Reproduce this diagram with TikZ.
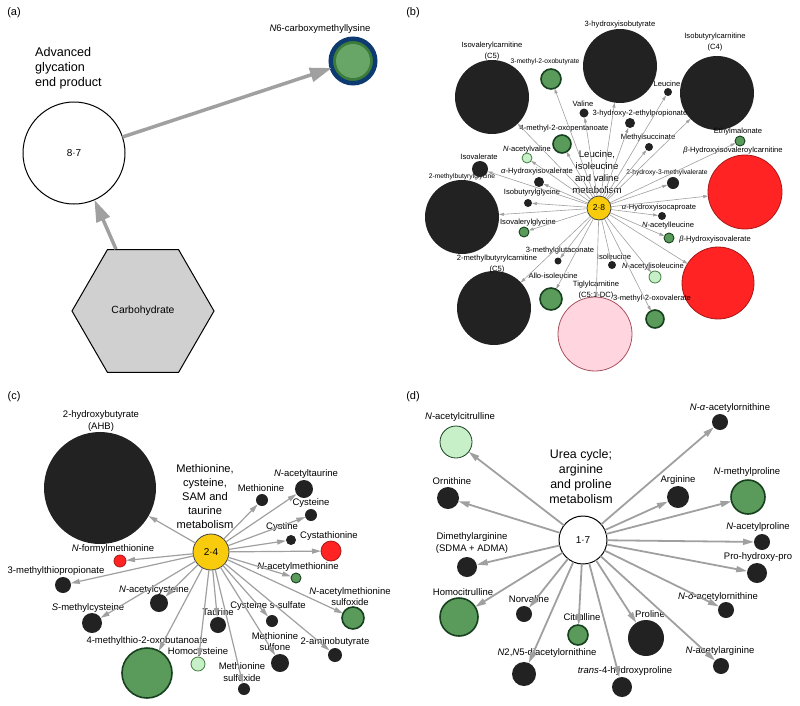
\documentclass[tikz,border=0pt]{standalone}
\usepackage{fontspec}
\setmainfont{Liberation Sans}
\usetikzlibrary{shapes.geometric}
\usetikzlibrary{arrows.meta}
\definecolor{nodeblk}{HTML}{222222}
\definecolor{nodegrn}{HTML}{5A9A5A}
\definecolor{ringgrn}{HTML}{17401F}
\definecolor{nodelgrn}{HTML}{C8F0C8}
\definecolor{ringlgrn}{HTML}{3E7E3E}
\definecolor{nodered}{HTML}{FF2323}
\definecolor{ringred}{HTML}{A81818}
\definecolor{nodepink}{HTML}{FFD6DF}
\definecolor{ringpink}{HTML}{A8505C}
\definecolor{nodeyel}{HTML}{F8CC0C}
\definecolor{edgegray}{HTML}{A0A0A0}
\definecolor{hexgray}{HTML}{D0D0D0}
\definecolor{agenavy}{HTML}{0D3A70}
\definecolor{agegrn}{HTML}{3B7C3B}
\definecolor{agelite}{HTML}{67A667}
\tikzset{
    blk/.style = {circle, inner sep=0, outer sep=0, minimum size=#1, fill=nodeblk},
    grn/.style = {circle, inner sep=0, outer sep=0, minimum size=#1, fill=nodegrn, draw=ringgrn, line width=1.6},
    sgrn/.style = {grn=#1, line width=0.9},
    lgrn/.style = {circle, inner sep=0, outer sep=0, minimum size=#1, fill=nodelgrn, draw=ringlgrn, line width=0.8},
    redn/.style = {circle, inner sep=0, outer sep=0, minimum size=#1, fill=nodered, draw=ringred, line width=0.8},
    pinkn/.style = {circle, inner sep=0, outer sep=0, minimum size=#1, fill=nodepink, draw=ringpink, line width=0.8},
    hubn/.style = {circle, inner sep=0, outer sep=0, minimum size=#1, fill=nodeyel, draw=black!75, line width=0.8},
    whiten/.style = {circle, inner sep=0, outer sep=0, minimum size=#1, fill=white, draw=black, line width=1},
    agen/.style = {circle, inner sep=0, outer sep=0, minimum size=44.5, fill=agegrn, draw=agenavy, line width=4.5,
        path picture={\fill[agelite] (path picture bounding box.center) circle (17);}},
    hexn/.style = {regular polygon, regular polygon sides=6, minimum size=142, inner sep=0, fill=hexgray, draw=black, line width=1, font=\fontsize{10.4}{12}\selectfont},
    panel/.style = {font=\fontsize{11}{13}\selectfont, inner sep=0},
    lbla/.style = {font=\fontsize{9.5}{11}\selectfont, inner sep=0},
    lblab/.style = {font=\fontsize{12.6}{15}\selectfont, inner sep=0, align=left},
    lblb/.style = {font=\fontsize{7.6}{11}\selectfont, inner sep=0, align=center},
    lblbs/.style = {font=\fontsize{6.7}{8}\selectfont, inner sep=0},
    lblbh/.style = {font=\fontsize{9.6}{12}\selectfont, inner sep=0, align=center},
    lblc/.style = {font=\fontsize{9.5}{11.5}\selectfont, inner sep=0, align=center},
    lblch/.style = {font=\fontsize{11.1}{13.8}\selectfont, inner sep=0, align=center},
    lbld/.style = {font=\fontsize{9.5}{12}\selectfont, inner sep=0, align=center},
    lbldh/.style = {font=\fontsize{12.4}{15}\selectfont, inner sep=0, align=center},
    edgea/.style = {edgegray, line width=3.5, -{Triangle[length=22pt,width=14pt]}},
    edgeb/.style = {edgegray, line width=0.6, -{Triangle[length=5pt,width=3pt]}},
    edgec/.style = {edgegray, line width=1.2, -{Triangle[length=9pt,width=5pt]}},
    edged/.style = {edgegray, line width=1.8, -{Triangle[length=11pt,width=6pt]}}
}
\begin{document}
\begin{tikzpicture}[x=1pt,y=-1pt]
\useasboundingbox (0,0) rectangle (800,705);

% (a)
\node[panel] at (14,13) (pa) {(a)};
\node[whiten=102, font=\fontsize{10}{12}\selectfont] at (74,153) (a0) {8·7};
\node[lblab, anchor=west] at (35,68) (a0t) {Advanced\\glycation\\end product};
\node[agen] at (353,61) (cml) {};
\node[lbla] at (320,29) (cmlt) {\textit{N}6-carboxymethyllysine};
\node[hexn] at (143,311) (carb) {Carbohydrate};

\draw[edgea] (carb) -- (a0);
\draw[edgea] (a0) -- (cml);

% (b)
\node[panel] at (413,13) (pb) {(b)};
\node[hubn=24, font=\fontsize{8.5}{10}\selectfont] at (599,208) (b0) {2·8};
\node[lblbh] at (597,172) (b0t) {Leucine,\\isoleucine\\and valine\\metabolism};

\node[blk=74] at (492,97) (ivc) {};
\node[lblb] at (492,51.5) (ivct) {Isovalerylcarnitine\\(C5)};
\node[blk=74] at (620,66) (hib) {};
\node[lblb] at (620,25) (hibt) {3-hydroxyisobutyrate};
\node[blk=74] at (717,93) (ibc) {};
\node[lblb] at (715,42) (ibct) {Isobutyrylcarnitine\\(C4)};
\node[redn=74] at (745,192) (hivc) {};
\node[lblb] at (733,151) (hivct) {\textit{β}-Hydroxyisovaleroylcarnitine};
\node[redn=72] at (718,283) (hiv) {};
\node[lblb] at (715,240) (hivt) {\textit{β}-Hydroxyisovalerate};
\node[pinkn=74] at (595,334) (tgc) {};
\node[lblb] at (596,290) (tgct) {Tiglylcarnitine\\(C5:1-DC)};
\node[blk=74] at (494,308) (mbc) {};
\node[lblb] at (497,264.5) (mbct) {2-methylbutyrylcarnitine\\(C5)};
\node[blk=74] at (462,217) (mbg) {};
\node[lblbs] at (462,177) (mbgt) {2-methylbutyrylglycine};

\node[grn=20] at (551,79) (mob) {};
\node[lblbs] at (545,62) (mobt) {3-methyl-2-oxobutyrate};
\node[blk=8] at (668,92) (leu) {};
\node[lblb] at (667,84) (leut) {Leucine};
\node[blk=9] at (584,113) (val) {};
\node[lblb] at (583,104) (valt) {Valine};
\node[blk=10] at (630,123) (hep) {};
\node[lblb] at (640,114) (hept) {3-hydroxy-2-ethylpropionate};
\node[grn=18] at (562,144) (mop) {};
\node[lblb] at (564,129) (mopt) {4-methyl-2-oxopentanoate};
\node[blk=8] at (649,147) (msu) {};
\node[lblb] at (648,138) (msut) {Methylsuccinate};
\node[sgrn=10] at (740,141) (ema) {};
\node[lblb] at (738,132) (emat) {Ethylmalonate};
\node[lgrn=10] at (527,158) (nav) {};
\node[lblb] at (527,150) (navt) {\textit{N}-acetylvaline};
\node[blk=16] at (480,169) (iva) {};
\node[lblb] at (479,157) (ivat) {Isovalerate};
\node[blk=10] at (539,182) (ahiv) {};
\node[lblb] at (537,172) (ahivt) {\textit{α}-Hydroxyisovalerate};
\node[blk=12] at (673,183) (hmv) {};
\node[lblbs] at (667,173) (hmvt) {2-hydroxy-3-methylvalerate};
\node[blk=8] at (528,203) (ibg) {};
\node[lblb] at (532,193) (ibgt) {Isobutyrylglycine};
\node[blk=8] at (662,216) (ahic) {};
\node[lblb] at (659,208) (ahict) {\textit{α}-Hydroxyisocaproate};
\node[sgrn=10] at (524,232) (ivg) {};
\node[lblb] at (528,223) (ivgt) {Isovalerylglycine};
\node[sgrn=10] at (669,238) (nal) {};
\node[lblb] at (668,226) (nalt) {\textit{N}-acetylleucine};
\node[blk=7] at (558,261) (mgc) {};
\node[lblb] at (560,251) (mgct) {3-methylglutaconate};
\node[blk=8] at (612,265) (ile) {};
\node[lblb] at (614,257) (ilet) {Isoleucine};
\node[lgrn=12] at (655,277) (nai) {};
\node[lblb] at (653,267) (nait) {\textit{N}-acetylisoleucine};
\node[grn=22] at (551,299) (aile) {};
\node[lblb] at (553,276) (ailet) {Allo-isoleucine};
\node[grn=18] at (655,319) (mov) {};
\node[lblb] at (652,299) (movt) {3-methyl-2-oxovalerate};

\draw[edgeb] (b0) -- (ivc);
\draw[edgeb] (b0) -- (hib);
\draw[edgeb] (b0) -- (ibc);
\draw[edgeb] (b0) -- (hivc);
\draw[edgeb] (b0) -- (hiv);
\draw[edgeb] (b0) -- (tgc);
\draw[edgeb] (b0) -- (mbc);
\draw[edgeb] (b0) -- (mbg);
\draw[edgeb] (b0) -- (mob);
\draw[edgeb] (b0) -- (leu);
\draw[edgeb] (b0) -- (val);
\draw[edgeb] (b0) -- (hep);
\draw[edgeb] (b0) -- (mop);
\draw[edgeb] (b0) -- (msu);
\draw[edgeb] (b0) -- (ema);
\draw[edgeb] (b0) -- (nav);
\draw[edgeb] (b0) -- (iva);
\draw[edgeb] (b0) -- (ahiv);
\draw[edgeb] (b0) -- (hmv);
\draw[edgeb] (b0) -- (ibg);
\draw[edgeb] (b0) -- (ahic);
\draw[edgeb] (b0) -- (ivg);
\draw[edgeb] (b0) -- (nal);
\draw[edgeb] (b0) -- (mgc);
\draw[edgeb] (b0) -- (ile);
\draw[edgeb] (b0) -- (nai);
\draw[edgeb] (b0) -- (aile);
\draw[edgeb] (b0) -- (mov);

% (c)
\node[panel] at (14,397) (pc) {(c)};
\node[hubn=36, font=\fontsize{10}{12}\selectfont] at (211,552) (c0) {2·4};
\node[lblch] at (205,496.5) (c0t) {Methionine,\\cysteine,\\SAM and\\taurine\\metabolism};

\node[blk=112] at (100,488) (ahb) {};
\node[lblc] at (101,421) (ahbt) {2-hydroxybutyrate\\(AHB)};
\node[blk=12] at (262,500) (met) {};
\node[lblc] at (261,488) (mett) {Methionine};
\node[blk=18] at (304,489) (nat) {};
\node[lblc] at (306,474) (natt) {\textit{N}-acetyltaurine};
\node[blk=12] at (311,515) (cys) {};
\node[lblc] at (311,503) (cyst) {Cysteine};
\node[blk=10] at (291,540) (cyss) {};
\node[lblc] at (282,527) (cysst) {Cystine};
\node[redn=20] at (331,551) (cth) {};
\node[lblc] at (329,536) (ctht) {Cystathionine};
\node[redn=12] at (120,561) (nfm) {};
\node[lblc] at (113,549) (nfmt) {\textit{N}-formylmethionine};
\node[sgrn=10] at (296,578) (nam) {};
\node[lblc] at (298,567) (namt) {\textit{N}-acetylmethionine};
\node[blk=16] at (63,585) (mtp) {};
\node[lblc] at (56,571) (mtpt) {3-methylthiopropionate};
\node[blk=18] at (159,603) (nac) {};
\node[lblc] at (154,590) (nact) {\textit{N}-acetylcysteine};
\node[grn=22] at (353,618) (nams) {};
\node[lblc] at (350,596.5) (namst) {\textit{N}-acetylmethionine\\sulfoxide};
\node[blk=20] at (92,623) (smc) {};
\node[lblc] at (88,608) (smct) {\textit{S}-methylcysteine};
\node[blk=16] at (218,625) (tau) {};
\node[lblc] at (218,612) (taut) {Taurine};
\node[blk=12] at (272,621) (css) {};
\node[lblc] at (268,606) (csst) {Cysteine s-sulfate};
\node[grn=50] at (147,673) (mtob) {};
\node[lblc] at (147,641) (mtobt) {4-methylthio-2-oxobutanoate};
\node[lgrn=14] at (198,664) (hcy) {};
\node[lblc] at (198,652) (hcyt) {Homocysteine};
\node[blk=18] at (280,663) (msn) {};
\node[lblc] at (275,641.5) (msnt) {Methionine\\sulfone};
\node[blk=14] at (335,655) (abu) {};
\node[lblc] at (335,642) (abut) {2-aminobutyrate};
\node[blk=12] at (244,689) (mso) {};
\node[lblc] at (242,672) (msot) {Methionine\\sulfoxide};

\draw[edgec] (c0) -- (ahb);
\draw[edgec] (c0) -- (met);
\draw[edgec] (c0) -- (nat);
\draw[edgec] (c0) -- (cys);
\draw[edgec] (c0) -- (cyss);
\draw[edgec] (c0) -- (cth);
\draw[edgec] (c0) -- (nfm);
\draw[edgec] (c0) -- (nam);
\draw[edgec] (c0) -- (mtp);
\draw[edgec] (c0) -- (nac);
\draw[edgec] (c0) -- (nams);
\draw[edgec] (c0) -- (smc);
\draw[edgec] (c0) -- (tau);
\draw[edgec] (c0) -- (css);
\draw[edgec] (c0) -- (mtob);
\draw[edgec] (c0) -- (hcy);
\draw[edgec] (c0) -- (msn);
\draw[edgec] (c0) -- (abu);
\draw[edgec] (c0) -- (mso);

% (d)
\node[panel] at (413,397) (pd) {(d)};
\node[whiten=48, font=\fontsize{10}{12}\selectfont] at (583,540) (d0) {1·7};
\node[lbldh] at (581,476.5) (d0t) {Urea cycle;\\arginine\\and proline\\metabolism};

\node[lgrn=32, draw=ringgrn] at (456,442) (nacit) {};
\node[lbld] at (460,417) (nacitt) {\textit{N}-acetylcitrulline};
\node[blk=16] at (720,422) (naorn) {};
\node[lbld] at (730,408) (naornt) {\textit{N}-\textit{α}-acetylornithine};
\node[blk=22] at (448,498) (orn) {};
\node[lbld] at (452,481) (ornt) {Ornithine};
\node[blk=22] at (678,497) (arg) {};
\node[lbld] at (678,480) (argt) {Arginine};
\node[grn=34] at (748,497) (nmp) {};
\node[lbld] at (747,472) (nmpt) {\textit{N}-methylproline};
\node[blk=16] at (762,542) (nap) {};
\node[lbld] at (758,527) (napt) {\textit{N}-acetylproline};
\node[blk=20] at (467,567) (dma) {};
\node[lbld] at (472,543) (dmat) {Dimethylarginine\\(SDMA + ADMA)};
\node[blk=20] at (757,573) (php) {};
\node[lbld] at (758,557) (phpt) {Pro-hydroxy-pro};
\node[grn=38] at (459,617) (hcit) {};
\node[lbld] at (463,592) (hcitt) {Homocitrulline};
\node[blk=16] at (524,614) (nva) {};
\node[lbld] at (529,599) (nvat) {Norvaline};
\node[blk=16] at (726,610) (ndo) {};
\node[lbld] at (718,597) (ndot) {\textit{N}-\textit{δ}-acetylornithine};
\node[grn=20] at (578,635) (cit) {};
\node[lbld] at (582,617) (citt) {Citrulline};
\node[blk=36] at (646,638) (pro) {};
\node[lbld] at (650,614) (prot) {Proline};
\node[blk=24] at (524,674) (ddo) {};
\node[lbld] at (547,653) (ddot) {\textit{N}2,\textit{N}5-diacetylornithine};
\node[blk=20] at (622,687) (thp) {};
\node[lbld] at (625,671) (thpt) {\textit{trans}-4-hydroxyproline};
\node[blk=16] at (721,666) (narg) {};
\node[lbld] at (720,651) (nargt) {\textit{N}-acetylarginine};

\draw[edged] (d0) -- (nacit);
\draw[edged] (d0) -- (naorn);
\draw[edged] (d0) -- (orn);
\draw[edged] (d0) -- (arg);
\draw[edged] (d0) -- (nmp);
\draw[edged] (d0) -- (nap);
\draw[edged] (d0) -- (dma);
\draw[edged] (d0) -- (php);
\draw[edged] (d0) -- (hcit);
\draw[edged] (d0) -- (nva);
\draw[edged] (d0) -- (ndo);
\draw[edged] (d0) -- (cit);
\draw[edged] (d0) -- (pro);
\draw[edged] (d0) -- (ddo);
\draw[edged] (d0) -- (thp);
\draw[edged] (d0) -- (narg);

\end{tikzpicture}
\end{document}
